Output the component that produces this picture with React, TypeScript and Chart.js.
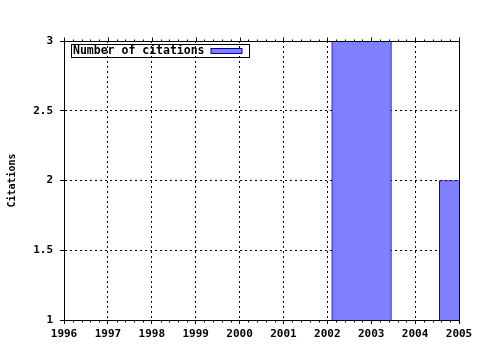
import React, { useEffect, useRef } from 'react';
import { Chart, registerables } from 'chart.js';

Chart.register(...registerables);

// ---- data ----
const boxCenters = [2002.78, 2005.23]; // year positions of the boxes
const citations = [3, 2];
const seriesLabel = 'Number of citations';
const yTitle = 'Citations';
const xMin = 1996;
const xMax = 2005;
const yMin = 1;
const yMax = 3;
const yStep = 0.5;

// ---- style ----
const BOX_WIDTH_YEARS = 1.36;
const FONT = "'DejaVu Sans Mono', monospace";
const FILL = 'rgb(128,128,255)';
const EDGE = '#0000b0';

const framePlugin = {
  id: 'gnuFrame',
  afterDatasetsDraw(chart: any) {
    const { ctx, chartArea: a, scales } = chart;
    const xs = scales.x;
    const L = Math.round(a.left) + 0.5;
    const R = Math.round(a.right) + 0.5;
    const T = Math.round(a.top) + 0.5;
    const B = Math.round(a.bottom) + 0.5;
    ctx.save();
    ctx.setLineDash([]);
    ctx.strokeStyle = '#000';
    ctx.lineWidth = 1;
    ctx.strokeRect(L, T, R - L, B - T);
    ctx.beginPath();
    for (let yr = xMin; yr <= xMax; yr++) {
      const px = Math.round(xs.getPixelForValue(yr)) + 0.5;
      ctx.moveTo(px, T);
      ctx.lineTo(px, T - 4);
      if (yr < xMax) {
        for (let k = 1; k < 5; k++) {
          const mp = Math.round(xs.getPixelForValue(yr + k / 5)) + 0.5;
          ctx.moveTo(mp, B);
          ctx.lineTo(mp, B + 2);
          ctx.moveTo(mp, T);
          ctx.lineTo(mp, T - 2);
        }
      }
    }
    ctx.stroke();

    // legend box (inside plot, top-left)
    const lx = Math.round(a.left) + 7.5;
    const ly = Math.round(a.top) + 3.5;
    const label = chart.data.datasets[0].label;
    ctx.strokeRect(lx, ly, 178, 13);
    ctx.font = `bold 11.5px ${FONT}`;
    ctx.textBaseline = 'middle';
    ctx.textAlign = 'left';
    ctx.fillStyle = '#000';
    ctx.fillText(label, lx + 1.5, ly + 7);
    ctx.fillStyle = FILL;
    ctx.fillRect(lx + 139.5, ly + 4, 31, 5);
    ctx.strokeStyle = EDGE;
    ctx.strokeRect(lx + 139.5, ly + 3.5 + 0.5, 31, 5);
    ctx.restore();
  },
};

export default function App() {
  const ref = useRef<HTMLCanvasElement | null>(null);

  useEffect(() => {
    document.body.style.margin = '0';
    const canvas = ref.current;
    if (!canvas) return;
    const isInt = (v: number) => Math.abs(v - Math.round(v)) < 1e-6;
    const chart = new Chart(canvas, {
      type: 'bar',
      data: {
        datasets: [
          {
            label: seriesLabel,
            data: boxCenters.map((x, i) => ({ x, y: citations[i] })),
            backgroundColor: FILL,
            borderColor: EDGE,
            borderWidth: 1,
            borderSkipped: 'start',
            barThickness: 'flex',
            categoryPercentage: 1,
            barPercentage: BOX_WIDTH_YEARS / (boxCenters[1] - boxCenters[0]),
            clip: 0,
          } as any,
        ],
      },
      options: {
        responsive: false,
        animation: false,
        devicePixelRatio: 1,
        layout: { padding: { top: 41, right: 21, left: 0, bottom: 0 } },
        plugins: {
          legend: { display: false },
          tooltip: { enabled: false },
        },
        scales: {
          x: {
            type: 'linear',
            min: xMin,
            max: xMax,
            offset: false,
            afterFit: (s: any) => {
              s.height = 30;
            },
            grid: {
              color: '#000',
              lineWidth: 1,
              tickLength: 4,
              tickColor: '#000',
              offset: false,
            },
            border: { display: true, color: '#000', dash: [2, 3] },
            ticks: {
              stepSize: 1,
              autoSkip: false,
              maxRotation: 0,
              padding: 4,
              color: '#000',
              font: { family: FONT, size: 11, weight: 'bold' },
              callback: (v: any) => (isInt(Number(v)) ? String(Math.round(Number(v))) : ''),
            },
          },
          y: {
            type: 'linear',
            min: yMin,
            max: yMax,
            afterFit: (s: any) => {
              s.width = 64;
            },
            grid: {
              color: '#000',
              lineWidth: 1,
              tickLength: 4,
              tickColor: '#000',
            },
            border: { display: true, color: '#000', dash: [2, 3] },
            ticks: {
              stepSize: yStep,
              padding: 7,
              color: '#000',
              font: { family: FONT, size: 11, weight: 'bold' },
              callback: (v: any) => String(v),
            },
            title: {
              display: true,
              text: yTitle,
              color: '#000',
              font: { family: FONT, size: 10, weight: 'bold' },
              padding: { top: 6, bottom: 0 },
            },
          },
        },
      },
      plugins: [framePlugin],
    });
    return () => chart.destroy();
  }, []);

  return <canvas ref={ref} width={480} height={350} style={{ display: 'block' }} />;
}
